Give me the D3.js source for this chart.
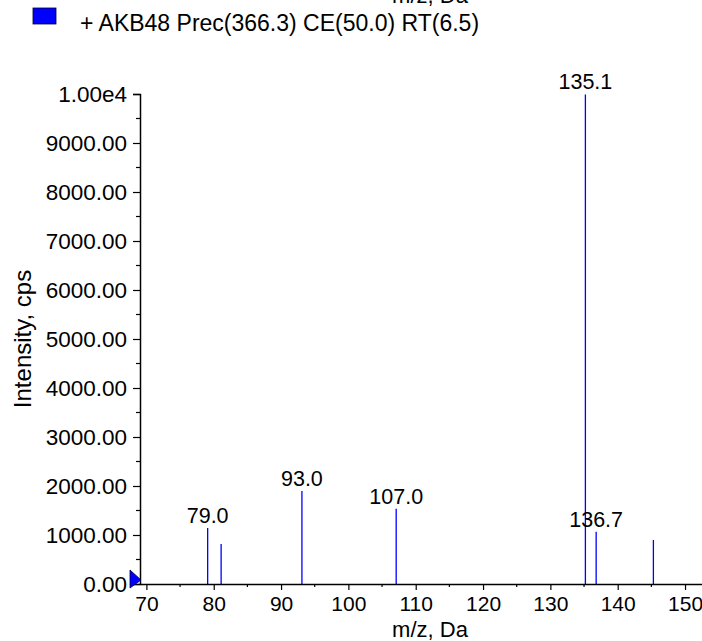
<!DOCTYPE html>
<html>
<head>
<meta charset="utf-8">
<script src="https://cdn.jsdelivr.net/npm/d3@7"></script>
<style>
  html, body { margin: 0; padding: 0; background: #fff; }
  svg { display: block; }
  text { font-family: "Liberation Sans", Arial, sans-serif; fill: #000; }
</style>
</head>
<body>
<svg id="chart" width="702" height="641"></svg>
<script>
// ---- data ----
const peakMz = [79.1, 81.1, 93.1, 107.1, 135.2, 136.8, 145.3];
const peakIntensity = [1143, 816, 1898, 1537, 9990, 1068, 898];
const peakLabels = ["79.0", "", "93.0", "107.0", "135.1", "136.7", ""];
const yTickValues = [0, 1000, 2000, 3000, 4000, 5000, 6000, 7000, 8000, 9000, 10000];
const yTickLabels = ["0.00", "1000.00", "2000.00", "3000.00", "4000.00", "5000.00", "6000.00", "7000.00", "8000.00", "9000.00", "1.00e4"];
const xTickValues = [70, 80, 90, 100, 110, 120, 130, 140, 150];
const legendText = "+ AKB48 Prec(366.3) CE(50.0) RT(6.5)";
const xTitle = "m/z, Da";
const yTitle = "Intensity, cps";

const svg = d3.select("#chart");
const x0 = 140, x1 = 702, yBottom = 584, yTop = 94;
const x = d3.scaleLinear().domain([69.05, 152.52]).range([x0, x1]);
const y = d3.scaleLinear().domain([0, 10000]).range([yBottom, yTop]);

// top cut-off title (from previous panel)
svg.append("text").attr("x", 430).attr("y", 3).attr("text-anchor", "middle")
  .attr("font-size", 22).text(xTitle);

// legend
svg.append("rect").attr("x", 33).attr("y", 8).attr("width", 23).attr("height", 16)
  .attr("fill", "#0000ff").attr("stroke", "#000033").attr("stroke-width", 0.8);
svg.append("text").attr("x", 80).attr("y", 31).attr("font-size", 23).text(legendText);

// peaks
const peaks = peakMz.map((m, i) => ({ m, v: peakIntensity[i], l: peakLabels[i] }));
svg.append("g").selectAll("line").data(peaks).join("line")
  .attr("x1", d => x(d.m)).attr("x2", d => x(d.m))
  .attr("y1", y(0)).attr("y2", d => y(d.v))
  .attr("stroke", "#0000ff").attr("stroke-width", 1.3);
svg.append("g").selectAll("text").data(peaks.filter(d => d.l)).join("text")
  .attr("x", d => x(d.m)).attr("y", d => y(d.v) - 5)
  .attr("text-anchor", "middle").attr("font-size", 21.5).text(d => d.l);

// y axis
const yAxis = d3.axisLeft(y).tickValues(yTickValues)
  .tickFormat((d, i) => yTickLabels[i]).tickSize(7).tickPadding(6);
const gy = svg.append("g").attr("transform", `translate(${x0},0)`).call(yAxis);
gy.select(".domain").attr("stroke", "#000").attr("stroke-width", 1.5);
gy.selectAll(".tick line").attr("stroke", "#000").attr("stroke-width", 1.2);
gy.selectAll(".tick text").attr("font-size", 22.5).attr("font-family", "Liberation Sans, Arial, sans-serif").attr("fill", "#000");
const yMinor = d3.range(500, 10000, 1000);
svg.append("g").selectAll("line").data(yMinor).join("line")
  .attr("x1", x0 - 4).attr("x2", x0).attr("y1", d => y(d)).attr("y2", d => y(d))
  .attr("stroke", "#000").attr("stroke-width", 1.2);

// x axis
const xAxis = d3.axisBottom(x).tickValues(xTickValues).tickFormat(d3.format("d"))
  .tickSize(6).tickPadding(6).tickSizeOuter(0);
const gx = svg.append("g").attr("transform", `translate(0,${yBottom})`).call(xAxis);
gx.select(".domain").attr("stroke", "#000").attr("stroke-width", 1.5);
gx.selectAll(".tick line").attr("stroke", "#000").attr("stroke-width", 1.2);
gx.selectAll(".tick text").attr("font-size", 21).attr("font-family", "Liberation Sans, Arial, sans-serif").attr("fill", "#000");
const xMinor = d3.range(75, 152, 10);
svg.append("g").selectAll("line").data(xMinor).join("line")
  .attr("x1", d => x(d)).attr("x2", d => x(d)).attr("y1", yBottom).attr("y2", yBottom + 3)
  .attr("stroke", "#000").attr("stroke-width", 1.2);

// axis titles
svg.append("text").attr("x", 430).attr("y", 637).attr("text-anchor", "middle")
  .attr("font-size", 22).text(xTitle);
svg.append("text").attr("transform", "translate(31,339) rotate(-90)")
  .attr("text-anchor", "middle").attr("font-size", 24).text(yTitle);

// baseline marker triangle
svg.append("path")
  .attr("d", `M${x0 - 10},${yBottom - 14} L${x0 + 1},${yBottom - 4} L${x0 - 10},${yBottom + 4} Z`)
  .attr("fill", "#0000ff").attr("stroke", "#000033").attr("stroke-width", 0.8);
</script>
</body>
</html>
